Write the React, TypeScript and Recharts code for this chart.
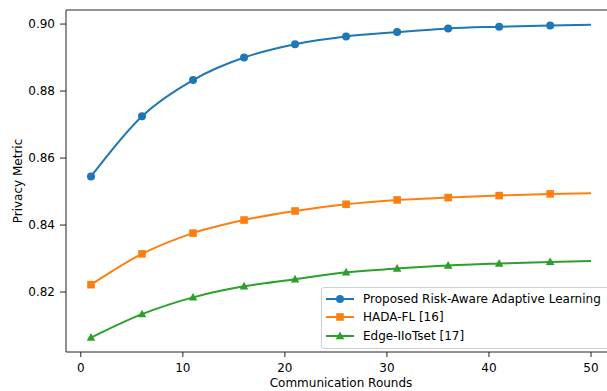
import React from 'react';
import { LineChart, Line, XAxis, YAxis, ReferenceLine, Legend } from 'recharts';

const rounds = [1, 6, 11, 16, 21, 26, 31, 36, 41, 46, 50];
const proposed = [0.8545, 0.8725, 0.8833, 0.89, 0.894, 0.8963, 0.8976, 0.8987, 0.8992, 0.8996, 0.8998];
const hadaFl = [0.8222, 0.8314, 0.8376, 0.8415, 0.8442, 0.8462, 0.8475, 0.8482, 0.8488, 0.8493, 0.8495];
const edgeIiot = [0.8064, 0.8134, 0.8184, 0.8217, 0.8238, 0.8259, 0.827, 0.8279, 0.8285, 0.829, 0.8293];

const xTicks = [0, 10, 20, 30, 40, 50];
const yTicks = [0.82, 0.84, 0.86, 0.88, 0.9];
const yMin = 0.8021;
const yMax = 0.9042;

const series = [
  { key: 'proposed', name: 'Proposed Risk-Aware Adaptive Learning', color: '#1f77b4', marker: 'circle' },
  { key: 'hada', name: 'HADA-FL [16]', color: '#ff7f0e', marker: 'square' },
  { key: 'edge', name: 'Edge-IIoTset [17]', color: '#2ca02c', marker: 'triangle' },
];

const data = rounds.map((r, i) => ({
  round: r,
  proposed: proposed[i],
  hada: hadaFl[i],
  edge: edgeIiot[i],
}));

const FONT = 'DejaVu Sans, sans-serif';

function Marker({ shape, cx, cy, color }: { shape: string; cx: number; cy: number; color: string }) {
  if (shape === 'square') {
    return <rect x={cx - 3.8} y={cy - 3.8} width={7.6} height={7.6} fill={color} />;
  }
  if (shape === 'triangle') {
    return <polygon points={`${cx},${cy - 4.5} ${cx - 4.3},${cy + 3.2} ${cx + 4.3},${cy + 3.2}`} fill={color} />;
  }
  return <circle cx={cx} cy={cy} r={4} fill={color} />;
}

const makeDot = (shape: string, color: string) => (props: any) => {
  const { cx, cy, index } = props;
  // markers every 5 rounds, the last point (round 50) has none
  if (index >= rounds.length - 1 || cx == null || cy == null) return <g key={`d-${index}`} />;
  return (
    <g key={`d-${index}`}>
      <Marker shape={shape} cx={cx} cy={cy} color={color} />
    </g>
  );
};

const LegendBox = () => (
  <div
    style={{
      border: '1px solid #d0d0d0',
      borderRadius: 3,
      background: 'rgba(255,255,255,0.85)',
      padding: '2px 0 3px 4px',
      width: 290,
      fontFamily: FONT,
      fontSize: 12,
      color: '#000',
      boxSizing: 'border-box',
    }}
  >
    {series.map((s) => (
      <div key={s.key} style={{ display: 'flex', alignItems: 'center', height: 18.3 }}>
        <svg width={28} height={12} style={{ marginRight: 9 }}>
          <line x1={0} y1={6} x2={28} y2={6} stroke={s.color} strokeWidth={2} />
          <Marker shape={s.marker} cx={14} cy={6} color={s.color} />
        </svg>
        <span>{s.name}</span>
      </div>
    ))}
  </div>
);

const YLabel = (props: any) => {
  const vb = props.viewBox || { x: 0, y: 10, width: 66, height: 342 };
  const x = vb.x + 18;
  const y = vb.y + vb.height / 2;
  return (
    <text
      x={x}
      y={y}
      transform={`rotate(-90 ${x} ${y})`}
      textAnchor="middle"
      dominantBaseline="central"
      fontFamily={FONT}
      fontSize={12}
      fill="#000"
    >
      Privacy Metric
    </text>
  );
};

export default function App() {
  return (
    <div
      style={{
        position: 'absolute',
        left: 0,
        top: 0,
        width: 607,
        height: 391,
        overflow: 'hidden',
        background: '#fff',
      }}
    >
      <LineChart
        width={625}
        height={391}
        data={data}
        margin={{ top: 10, right: 9, left: 0, bottom: 0 }}
        style={{ fontFamily: FONT }}
      >
        <XAxis
          dataKey="round"
          type="number"
          domain={[-1.45, 52.45]}
          allowDataOverflow
          ticks={xTicks}
          height={39}
          tickSize={5}
          tickMargin={6}
          stroke="#222"
          tick={{ fill: '#000', fontSize: 12, fontFamily: FONT }}
          label={{ value: 'Communication Rounds', position: 'insideBottom', offset: 4, fill: '#000', fontSize: 12, fontFamily: FONT }}
        />
        <YAxis
          type="number"
          domain={[yMin, yMax]}
          allowDataOverflow
          ticks={yTicks}
          width={66}
          tickSize={6}
          tickMargin={5}
          stroke="#222"
          tickFormatter={(v: number) => v.toFixed(2)}
          tick={{ fill: '#000', fontSize: 12, fontFamily: FONT }}
          label={{ content: YLabel }}
        />
        <ReferenceLine y={yMax} stroke="#222" strokeWidth={1} />
        {series.map((s) => (
          <Line
            key={s.key}
            type="monotone"
            dataKey={s.key}
            name={s.name}
            stroke={s.color}
            strokeWidth={2}
            dot={makeDot(s.marker, s.color)}
            activeDot={false}
            isAnimationActive={false}
          />
        ))}
        <Legend
          layout="horizontal"
          verticalAlign="middle"
          align="center"
          content={() => <LegendBox />}
          wrapperStyle={{ position: 'absolute', left: 321, top: 287, width: 290 }}
        />
      </LineChart>
    </div>
  );
}
